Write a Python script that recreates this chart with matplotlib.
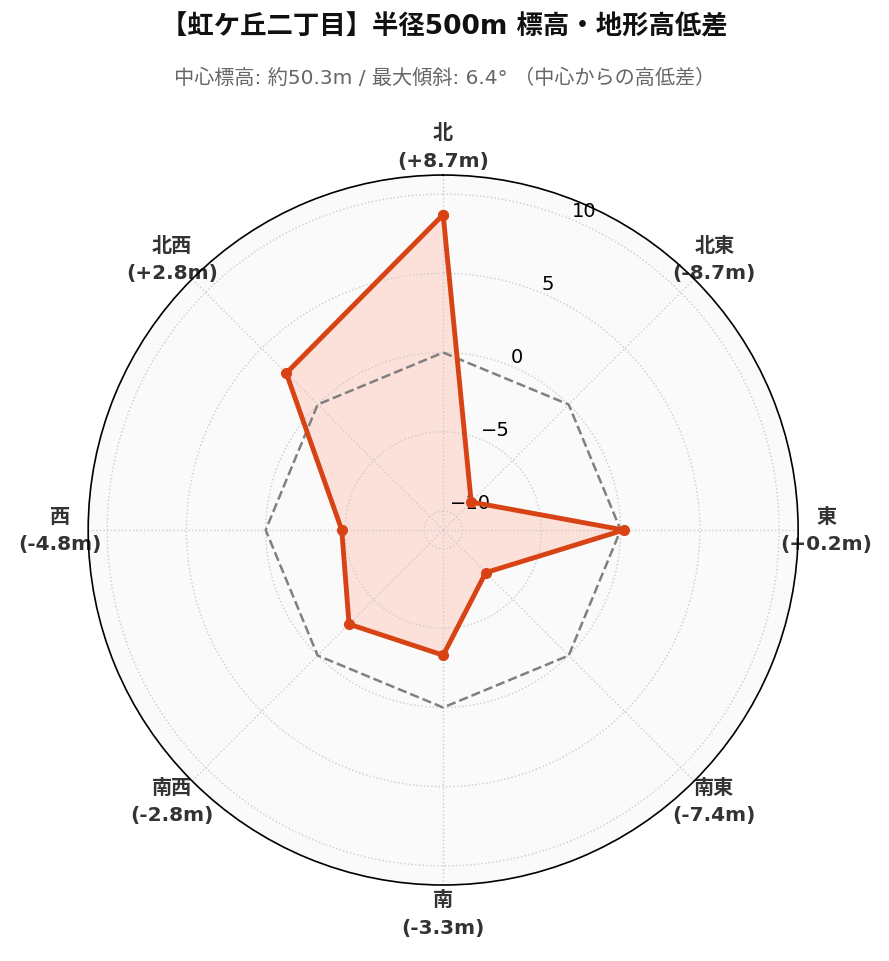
import matplotlib.pyplot as plt
import numpy as np

plt.rcParams['font.family'] = ['DejaVu Sans', 'Noto Sans CJK JP']
plt.rcParams['axes.unicode_minus'] = True

# data
directions = ['北', '北東', '東', '南東', '南', '南西', '西', '北西']
diffs = np.array([8.7, -8.7, 0.2, -7.4, -3.3, -2.8, -4.8, 2.8])

angles = np.linspace(0, 2 * np.pi, len(directions), endpoint=False)
angles_c = np.append(angles, angles[0])
vals_c = np.append(diffs, diffs[0])

fig = plt.figure(figsize=(8.89, 9.62), dpi=100)
ax = fig.add_axes([0.099, 0.079, 0.799, 0.738], projection='polar')
ax.set_facecolor('#FAFAFA')
ax.set_theta_zero_location('N')
ax.set_theta_direction(-1)

lim = np.abs(diffs).max() + 2.5
ax.set_ylim(-lim, lim)
ax.set_yticks([-10, -5, 0, 5, 10])
ax.tick_params(axis='y', labelsize=14)

# zero reference
ax.plot(angles_c, np.zeros_like(angles_c), color='gray', linestyle='--', linewidth=1.8)

# data
ax.plot(angles_c, vals_c, color='#D84315', linewidth=3.5, marker='o', markersize=7)
ax.fill(angles_c, vals_c, color='#FF8A65', alpha=0.22)

labels = [f'{d}\n({v:+.1f}m)' for d, v in zip(directions, diffs)]
ax.set_xticks(angles)
ax.set_xticklabels(labels, fontsize=14.5, fontweight='bold', color='#333333',
                   linespacing=1.55)
ax.tick_params(axis='x', pad=10)

ax.grid(True, linestyle=':', color='#CCCCCC', linewidth=1.0)
ax.spines['polar'].set_color('black')
ax.spines['polar'].set_linewidth(1.2)

fig.text(0.5, 0.971, '【虹ケ丘二丁目】半径500m 標高・地形高低差', ha='center', va='center',
         fontsize=19, fontweight='bold', color='#111111')
fig.text(0.5, 0.919, '中心標高: 約50.3m / 最大傾斜: 6.4° （中心からの高低差）', ha='center',
         va='center', fontsize=14.5, color='#666666')

plt.savefig('out.png', dpi=100)
